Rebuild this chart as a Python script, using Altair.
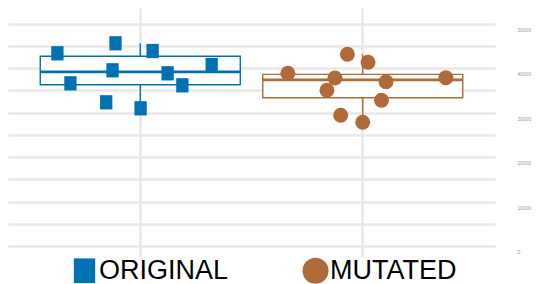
import altair as alt
import pandas as pd

groups = ["ORIGINAL", "MUTATED"]
orig_values = [43340, 45590, 43860, 39520, 36590, 38840, 40710, 36140, 32320, 30970]
orig_jitter = [-0.827, -0.247, 0.123, -0.277, -0.697, 0.273, 0.713, 0.42, -0.34, 0.003]
mut_values = [38840, 43120, 41320, 37790, 35020, 36950, 37850, 32770, 29400, 27820]
mut_jitter = [-0.747, -0.153, 0.053, -0.277, -0.357, 0.233, 0.83, 0.187, -0.22, 0.0]
colors = ["#0071B2", "#B06A37"]
y_ticks = list(range(0, 50001, 5000))

df = pd.DataFrame({
    "group": [groups[0]] * len(orig_values) + [groups[1]] * len(mut_values),
    "value": orig_values + mut_values,
    "jit": orig_jitter + mut_jitter,
})

grid_col = "#e8e8e8"

x_enc = alt.X(
    "group:N",
    sort=groups,
    scale=alt.Scale(paddingInner=0, paddingOuter=0.0946),
    axis=alt.Axis(title=None, labels=False, ticks=False, domain=False, grid=True,
                  gridColor=grid_col, gridWidth=2.5, bandPosition=0.5),
)
y_scale = alt.Scale(domain=[-2474, 53531], nice=False, zero=False)
y_axis = alt.Axis(title=None, orient="right", domain=False, ticks=False, grid=True,
                  gridColor=grid_col, gridWidth=2.5, values=y_ticks, format="d",
                  labelExpr="datum.value % 10000 == 0 ? datum.label : ''",
                  labelFontSize=5, labelColor="#999999", labelPadding=22,
                  labelOffset=5.5, labelFont="Liberation Sans")
color_scale = alt.Scale(domain=groups, range=colors)
legend = alt.Legend(orient="none", legendX=63, legendY=249,
                    direction="horizontal", symbolSize=676,
                    labelFontSize=27, labelFont="Liberation Sans",
                    labelColor="black", labelOffset=1,
                    columnPadding=73, symbolStrokeWidth=0,
                    symbolOpacity=1, title=None)
color_enc = alt.Color("group:N", scale=color_scale, sort=groups, title=None, legend=legend)

base = alt.Chart(df)

stats = base.transform_aggregate(
    q1="q1(value)", med="median(value)", q3="q3(value)",
    lo="min(value)", hi="max(value)", groupby=["group"],
)

box_bg = stats.mark_bar(width=200, color="white").encode(
    x=x_enc,
    y=alt.Y("q1:Q", scale=y_scale, axis=y_axis),
    y2="q3:Q",
)
box = stats.mark_bar(width=200, filled=False, strokeWidth=1.4, opacity=1).encode(
    x=x_enc,
    y=alt.Y("q1:Q", scale=y_scale, axis=y_axis),
    y2="q3:Q",
    color=color_enc,
)
whisk_hi = stats.mark_rule(strokeWidth=1.4, opacity=1).encode(
    x=x_enc, y=alt.Y("q3:Q", scale=y_scale, axis=y_axis), y2="hi:Q",
    color=color_enc,
)
whisk_lo = stats.mark_rule(strokeWidth=1.4, opacity=1).encode(
    x=x_enc, y=alt.Y("q1:Q", scale=y_scale, axis=y_axis), y2="lo:Q",
    color=color_enc,
)
median = stats.mark_tick(size=200, thickness=2.8, opacity=1).encode(
    x=x_enc, y=alt.Y("med:Q", scale=y_scale, axis=y_axis),
    color=color_enc,
)

points = base.mark_point(filled=True, opacity=1, size=225, strokeWidth=0).encode(
    x=x_enc,
    xOffset=alt.XOffset("jit:Q", scale=alt.Scale(domain=[-1.11, 1.11])),
    y=alt.Y("value:Q", scale=y_scale, axis=y_axis),
    color=color_enc,
    shape=alt.Shape("group:N", sort=groups, title=None, legend=legend,
                    scale=alt.Scale(domain=groups,
                                    range=["M-0.82,-0.95H0.82V0.95H-0.82Z", "circle"])),
)

chart = alt.layer(box_bg, box, whisk_hi, whisk_lo, median, points).properties(
    width=487, height=249,
    padding={"left": 0, "top": 0, "right": 45, "bottom": 30},
    autosize=alt.AutoSizeParams(type="none"),
).configure_view(stroke=None)

chart.save("out.html", embed_options={"renderer": "svg", "actions": False})
